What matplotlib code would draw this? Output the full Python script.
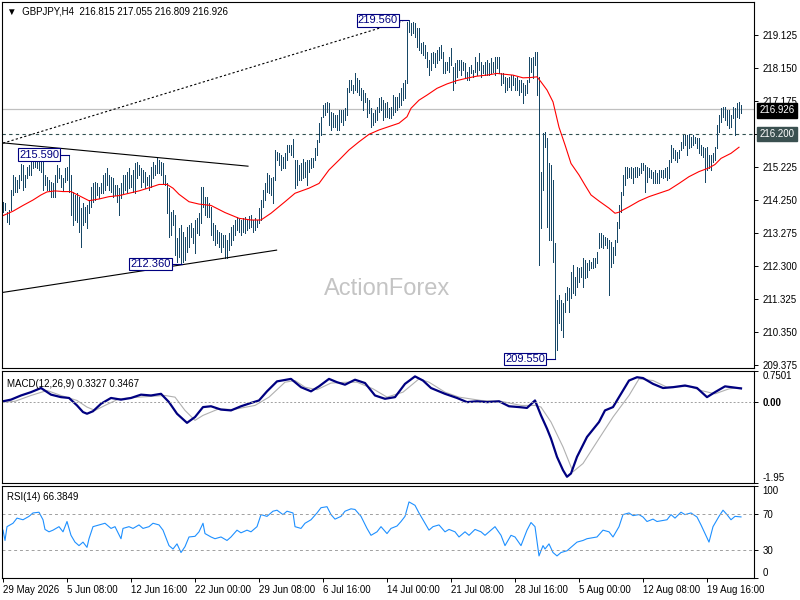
import numpy as np
import matplotlib
matplotlib.use("Agg")
import matplotlib.pyplot as plt

plt.rcParams['font.family'] = ['Liberation Sans', 'DejaVu Sans']

# H4 bars, high / low per bar
highs = [
    214.19, 214.16, 213.90, 213.96, 214.55, 214.99, 214.93, 214.84, 214.99, 215.31,
    215.28, 214.99, 215.23, 215.28, 215.49, 215.52, 215.52, 215.43, 215.37, 215.37,
    215.37, 214.99, 214.93, 214.84, 214.78, 214.75, 214.99, 215.28, 215.20, 214.99,
    214.90, 215.20, 215.23, 215.59, 214.99, 214.49, 214.40, 214.46, 214.34, 214.01,
    214.16, 214.04, 214.10, 214.25, 214.63, 214.75, 214.78, 214.75, 214.63, 214.75,
    214.99, 215.05, 215.20, 214.99, 214.93, 214.90, 214.69, 214.69, 214.61, 214.75,
    214.99, 214.99, 215.08, 215.20, 214.99, 215.14, 215.34, 215.37, 215.28, 215.20,
    215.14, 215.08, 214.93, 214.99, 215.23, 215.37, 215.28, 215.52, 215.43, 215.37,
    215.34, 214.99, 214.75, 214.61, 213.90, 213.96, 213.81, 213.13, 213.42, 213.51,
    213.31, 213.16, 213.45, 213.51, 213.57, 213.42, 213.66, 213.72, 213.87, 214.63,
    214.63, 214.34, 214.34, 214.16, 214.04, 213.57, 213.51, 213.36, 213.31, 213.28,
    213.22, 213.22, 213.07, 213.28, 213.45, 213.51, 213.66, 213.75, 213.69, 213.66,
    213.72, 213.75, 213.66, 213.78, 213.81, 213.66, 213.72, 213.66, 214.01, 214.25,
    214.55, 214.75, 215.05, 214.99, 214.90, 214.93, 215.73, 215.67, 215.64, 215.58,
    215.52, 215.64, 215.88, 215.88, 215.88, 216.05, 215.43, 215.43, 215.28, 215.34,
    215.46, 215.37, 215.43, 215.43, 215.49, 215.49, 215.79, 216.02, 216.53, 216.70,
    217.06, 217.12, 217.15, 217.12, 216.85, 216.82, 216.76, 216.76, 216.91, 216.91,
    216.91, 216.97, 217.56, 217.80, 217.80, 217.65, 218.00, 217.86, 217.80, 217.56,
    217.50, 217.41, 217.26, 217.21, 216.97, 216.82, 216.91, 217.00, 217.26, 217.29,
    217.21, 217.12, 217.15, 216.97, 217.00, 217.35, 217.29, 217.29, 217.41, 217.56,
    217.71, 217.80, 219.51, 219.56, 219.48, 219.51, 219.48, 219.33, 219.33, 218.89,
    218.92, 218.83, 218.62, 218.39, 218.59, 218.62, 218.59, 218.68, 218.77, 218.83,
    218.62, 218.33, 218.33, 218.48, 218.74, 218.18, 218.30, 218.39, 218.39, 218.39,
    218.33, 218.30, 218.03, 218.18, 218.24, 218.09, 218.48, 218.33, 218.59, 218.33,
    218.24, 218.33, 218.39, 218.30, 218.45, 218.33, 218.48, 218.48, 218.48, 218.00,
    218.00, 217.88, 217.86, 217.88, 217.94, 217.94, 217.86, 217.88, 217.80, 217.80,
    217.71, 217.65, 217.80, 218.48, 218.45, 218.48, 218.62, 218.62, 217.88, 215.08,
    216.23, 216.26, 216.08, 215.34, 215.28, 214.84, 212.98, 211.30, 211.44, 211.30,
    211.21, 211.50, 211.68, 211.65, 212.12, 212.33, 211.98, 212.27, 212.24, 212.27,
    212.54, 212.48, 212.39, 212.48, 212.42, 212.54, 212.54, 212.71, 213.28, 213.28,
    213.22, 213.16, 213.13, 213.07, 213.01, 212.86, 213.07, 213.60, 214.10, 214.49,
    214.99, 215.23, 215.23, 215.20, 215.23, 215.20, 215.23, 215.23, 215.20, 215.34,
    215.34, 215.28, 215.23, 215.20, 215.14, 215.08, 215.14, 215.05, 215.14, 215.14,
    215.14, 215.20, 215.23, 215.43, 215.88, 215.79, 215.73, 215.67, 215.73, 215.96,
    216.17, 216.17, 216.17, 216.20, 216.11, 216.17, 216.11, 216.08, 216.08, 215.88,
    215.82, 215.79, 215.82, 215.58, 215.58, 215.64, 215.82, 216.47, 216.76, 216.97,
    217.00, 217.00, 216.91, 216.91, 216.76, 217.00, 216.97, 217.12, 217.15, 217.06,
]
lows = [
    213.90, 213.96, 213.60, 213.54, 213.96, 214.40, 214.49, 214.49, 214.61, 214.84,
    214.55, 214.63, 214.90, 214.99, 214.99, 215.20, 215.23, 215.20, 215.14, 215.08,
    214.55, 214.69, 214.55, 214.55, 214.34, 214.34, 214.34, 214.78, 214.90, 214.63,
    214.55, 214.78, 214.84, 214.49, 213.81, 213.51, 213.66, 213.60, 213.31, 212.86,
    213.51, 213.60, 213.42, 213.87, 214.04, 214.19, 214.25, 214.40, 214.31, 214.46,
    214.46, 214.55, 214.69, 214.55, 214.49, 214.34, 214.40, 214.19, 213.81, 214.31,
    214.46, 214.55, 214.49, 214.61, 214.63, 214.49, 214.46, 214.90, 214.99, 214.63,
    214.78, 214.61, 214.69, 214.55, 214.63, 214.90, 214.99, 215.05, 215.05, 214.99,
    214.75, 214.69, 213.87, 213.16, 213.22, 213.51, 212.63, 212.42, 212.57, 212.36,
    212.42, 212.48, 212.71, 212.86, 213.16, 212.98, 212.68, 213.28, 213.22, 213.57,
    214.04, 213.81, 213.75, 213.75, 213.22, 213.07, 212.92, 212.98, 212.86, 212.71,
    212.86, 212.54, 212.54, 212.77, 212.92, 213.07, 213.22, 213.36, 213.31, 213.22,
    213.31, 213.28, 213.36, 213.42, 213.45, 213.31, 213.36, 213.45, 213.57, 213.66,
    214.04, 214.25, 214.49, 214.46, 214.40, 214.16, 214.84, 215.43, 215.28, 215.14,
    215.20, 215.20, 215.43, 215.67, 215.58, 215.52, 214.61, 214.69, 214.84, 214.84,
    214.90, 214.93, 214.69, 215.08, 215.20, 215.23, 215.43, 215.58, 215.96, 216.17,
    216.70, 216.76, 216.85, 216.47, 216.32, 216.41, 216.41, 216.32, 216.32, 216.55,
    216.47, 216.61, 216.76, 217.44, 217.50, 217.41, 217.50, 217.44, 217.35, 217.21,
    216.91, 217.15, 216.70, 216.82, 216.41, 216.47, 216.55, 216.61, 216.85, 216.91,
    216.61, 216.70, 216.70, 216.67, 216.67, 216.76, 216.85, 216.91, 217.00, 217.06,
    217.21, 217.26, 217.71, 219.21, 219.13, 219.18, 219.07, 218.77, 218.68, 218.59,
    218.53, 218.45, 218.18, 217.94, 218.09, 218.30, 218.18, 218.30, 218.39, 218.45,
    218.00, 218.00, 218.09, 218.03, 218.24, 217.50, 217.71, 217.88, 218.09, 217.94,
    218.09, 217.86, 217.80, 217.80, 218.00, 217.88, 218.03, 217.94, 218.09, 217.88,
    218.00, 217.94, 217.94, 217.94, 218.00, 218.03, 217.94, 218.15, 218.00, 217.65,
    217.71, 217.44, 217.50, 217.59, 217.50, 217.65, 217.50, 217.50, 217.35, 217.44,
    217.12, 217.35, 217.41, 217.74, 218.03, 217.86, 218.24, 217.35, 212.33, 213.42,
    214.55, 215.82, 213.45, 213.07, 213.07, 212.42, 209.55, 209.82, 210.62, 210.41,
    210.20, 210.94, 211.30, 210.94, 211.36, 211.50, 211.44, 211.68, 211.83, 211.98,
    211.68, 211.95, 211.98, 212.18, 212.24, 212.24, 212.27, 212.39, 212.83, 212.86,
    212.83, 212.92, 212.83, 211.44, 212.27, 212.39, 212.63, 213.01, 213.42, 213.90,
    214.40, 214.69, 214.90, 214.93, 214.90, 214.75, 214.93, 214.93, 214.99, 215.05,
    215.14, 214.49, 214.78, 214.93, 214.90, 214.75, 214.75, 214.75, 214.75, 214.93,
    214.90, 214.93, 214.84, 214.90, 215.37, 215.49, 215.43, 215.37, 215.49, 215.73,
    215.79, 215.88, 215.58, 215.79, 215.82, 215.88, 215.93, 215.79, 215.64, 215.58,
    215.52, 214.78, 215.14, 215.20, 215.14, 215.37, 215.43, 215.79, 216.26, 216.55,
    216.70, 216.61, 216.47, 216.38, 216.41, 216.67, 216.17, 216.70, 216.67, 216.81,
]

# red moving average, sampled
ma_idx = [0, 5, 10, 15, 19, 22, 26, 30, 34, 38, 43, 48, 53, 58, 63, 68, 73, 78, 82, 85,
          88, 93, 98, 104, 111, 118, 124, 129, 134, 141, 146, 153, 158, 163, 168, 173, 178, 183, 188, 193,
          198, 202, 204, 208, 212, 217, 222, 227, 232, 237, 242, 247, 250, 255, 260, 264, 267, 269, 272, 275,
          278, 281, 284, 288, 291, 294, 298, 303, 306, 308, 313, 318, 323, 328, 333, 338, 343, 348, 353, 356,
          359, 364, 368]
ma_val = [213.79, 213.92, 214.09, 214.25, 214.40, 214.49, 214.52, 214.50, 214.50, 214.38,
          214.23, 214.28, 214.35, 214.38, 214.45, 214.52, 214.61, 214.71, 214.71, 214.60,
          214.42, 214.20, 214.13, 214.09, 213.88, 213.71, 213.66, 213.66, 213.86, 214.20,
          214.45, 214.60, 214.74, 215.14, 215.43, 215.73, 215.97, 216.19, 216.32, 216.42,
          216.52, 216.71, 216.96, 217.20, 217.35, 217.55, 217.68, 217.78, 217.85, 217.91,
          217.94, 217.99, 217.97, 217.94, 217.86, 217.87, 217.89, 217.74, 217.50, 217.15,
          216.40, 215.88, 215.33, 214.99, 214.69, 214.40, 214.22, 214.01, 213.86, 213.89,
          214.05, 214.22, 214.35, 214.45, 214.55, 214.74, 214.94, 215.09, 215.20, 215.30,
          215.48, 215.63, 215.81]

# MACD(12,26,9)
macd_idx = [0, 4, 9, 14, 19, 24, 29, 33, 37, 40, 42, 45, 49, 54, 59, 64, 69, 74, 79, 83,
            87, 92, 96, 100, 104, 109, 114, 119, 124, 128, 132, 137, 144, 149, 154, 158, 163, 167, 171, 176,
            181, 186, 191, 196, 201, 206, 210, 214, 221, 227, 232, 237, 242, 248, 253, 258, 262, 266, 269, 272,
            274, 277, 280, 282, 284, 287, 292, 298, 301, 305, 309, 313, 317, 320, 325, 330, 335, 341, 347, 352,
            356, 361, 369]
macd_val = [0.02, 0.06, 0.16, 0.24, 0.34, 0.18, 0.12, 0.10, -0.08, -0.24,
            -0.28, -0.22, -0.04, 0.10, 0.06, 0.10, 0.18, 0.16, 0.20, 0.0,
            -0.28, -0.50, -0.36, -0.12, -0.10, -0.18, -0.20, -0.10, -0.02, 0.04,
            0.26, 0.50, 0.56, 0.36, 0.26, 0.38, 0.56, 0.48, 0.42, 0.54,
            0.46, 0.16, 0.08, 0.12, 0.44, 0.62, 0.52, 0.34, 0.20, 0.10,
            0.0, 0.02, 0.0, 0.02, -0.10, -0.12, -0.14, 0.04, -0.32, -0.64,
            -0.88, -1.32, -1.64, -1.80, -1.72, -1.32, -0.84, -0.48, -0.20, -0.12,
            0.20, 0.52, 0.60, 0.58, 0.44, 0.34, 0.36, 0.40, 0.34, 0.12,
            0.24, 0.38, 0.33]
sig_idx = [0, 6, 14, 22, 29, 37, 42, 46, 51, 58, 68, 81, 86, 91, 96, 100, 108, 115, 126, 133,
           141, 146, 151, 157, 164, 172, 177, 185, 192, 200, 208, 213, 221, 228, 239, 249, 259, 266, 269, 274,
           280, 285, 290, 298, 305, 313, 318, 325, 332, 343, 349, 356, 363, 369]
sig_val = [0.0, 0.02, 0.16, 0.28, 0.16, 0.04, -0.12, -0.20, -0.08, 0.08,
           0.12, 0.16, 0.12, -0.20, -0.44, -0.32, -0.16, -0.18, -0.08, 0.12,
           0.48, 0.52, 0.36, 0.30, 0.46, 0.48, 0.48, 0.32, 0.12, 0.24,
           0.56, 0.48, 0.24, 0.12, 0.04, 0.02, -0.08, -0.08, -0.12, -0.48,
           -1.08, -1.68, -1.48, -0.88, -0.36, 0.16, 0.56, 0.52, 0.36, 0.38,
           0.28, 0.20, 0.32, 0.35]

# RSI(14)
rsi_idx = [0, 1, 2, 5, 7, 10, 13, 15, 18, 20, 21, 23, 25, 28, 30, 32, 34, 36, 38, 40,
           42, 43, 45, 48, 51, 54, 56, 59, 60, 63, 65, 68, 70, 73, 75, 78, 80, 83, 85, 87,
           89, 91, 93, 96, 98, 100, 101, 104, 106, 109, 112, 114, 117, 119, 122, 124, 127, 129, 132, 135,
           137, 140, 142, 145, 146, 149, 151, 154, 157, 159, 162, 164, 166, 169, 171, 174, 176, 179, 182, 184,
           187, 189, 192, 194, 197, 199, 201, 203, 206, 208, 210, 213, 215, 218, 221, 223, 226, 228, 231, 233,
           236, 239, 241, 244, 246, 249, 251, 254, 256, 259, 262, 264, 266, 268, 270, 271, 273, 275, 277, 279,
           282, 285, 287, 290, 292, 295, 297, 300, 303, 305, 308, 310, 313, 315, 318, 320, 322, 325, 327, 330,
           332, 334, 336, 339, 341, 344, 347, 349, 351, 353, 355, 358, 360, 362, 364, 366, 369]
rsi_val = [52.0, 40.8, 55.8, 59.5, 65.1, 63.3, 67.0, 70.7, 71.5, 63.3,
           52.8, 50.2, 52.0, 55.8, 50.2, 61.4, 46.4, 39.0, 35.2, 39.0,
           33.3, 42.7, 55.8, 57.7, 59.5, 53.9, 55.8, 42.7, 53.9, 55.8,
           53.9, 57.7, 53.9, 55.8, 59.5, 57.7, 52.0, 35.2, 31.5, 37.1,
           27.7, 34.1, 44.6, 45.3, 50.2, 59.5, 48.3, 44.6, 42.7, 44.6,
           40.8, 44.6, 52.0, 49.1, 52.0, 50.2, 55.8, 68.9, 67.0, 72.6,
           73.7, 68.9, 72.6, 70.7, 55.8, 53.9, 59.5, 63.3, 70.7, 76.4,
           77.5, 68.9, 64.0, 67.0, 72.6, 75.2, 74.5, 67.0, 53.9, 46.4,
           50.2, 55.8, 48.3, 53.9, 56.5, 61.4, 67.0, 82.7, 79.0, 70.7,
           63.3, 52.0, 55.8, 57.7, 50.2, 52.8, 50.2, 44.6, 50.2, 46.4,
           52.8, 50.2, 46.4, 52.0, 55.8, 46.4, 35.2, 46.4, 44.6, 35.2,
           52.0, 60.3, 55.8, 24.0, 35.2, 31.5, 37.1, 27.7, 24.0, 27.7,
           29.6, 35.2, 39.0, 40.8, 42.7, 43.8, 44.6, 52.0, 50.2, 44.6,
           55.8, 68.9, 70.7, 67.8, 68.9, 66.3, 61.4, 64.0, 61.4, 62.5,
           63.3, 68.9, 65.1, 71.5, 68.9, 70.7, 66.3, 57.7, 48.3, 39.0,
           55.8, 67.0, 73.7, 68.9, 63.3, 67.0, 66.4]

price_ticks = [219.125, 218.150, 217.175, 216.200, 215.225, 214.250,
               213.275, 212.300, 211.325, 210.350, 209.375]
date_idx = [0, 32, 64, 96, 128, 160, 192, 224, 256, 288, 320, 352]
date_labels = ["29 May 2026", "5 Jun 08:00", "12 Jun 16:00", "22 Jun 00:00",
               "29 Jun 08:00", "6 Jul 16:00", "14 Jul 00:00", "21 Jul 08:00",
               "28 Jul 16:00", "5 Aug 00:00", "12 Aug 08:00", "19 Aug 16:00"]

# drawn objects: (bar, price) ends
chan_dotted = ([0, 200], [215.93, 219.54])
chan_upper = ([-0.2, 122.5], [215.94, 215.25])
chan_lower = ([-0.2, 136.8], [211.52, 212.77])
level = 216.200
last_price = 216.926

bar_col = '#174766'
navy = '#000080'
fs = 7

fig = plt.figure(figsize=(8, 6), dpi=100)
ax1 = fig.add_axes([2/800, 1-368/600, 752/800, 366/600])
ax2 = fig.add_axes([2/800, 1-483/600, 752/800, 112/600])
ax3 = fig.add_axes([2/800, 1-578/600, 752/800, 92/600])

for ax in (ax1, ax2, ax3):
    ax.set_xlim(-0.5, 375.5)
    for s in ax.spines.values():
        s.set_linewidth(0.8)
    ax.yaxis.tick_right()
    ax.tick_params(axis='y', left=False, right=True, labelleft=False, labelright=True,
                   length=3, width=0.7, pad=3, labelsize=fs)
    ax.tick_params(axis='x', bottom=False, labelbottom=False)

# main price panel
idx = np.arange(len(highs))
ax1.vlines(idx, lows, highs, colors=bar_col, lw=0.5, antialiased=False)
ax1.plot(ma_idx, ma_val, color='#ff0000', lw=0.8)
ax1.axhline(last_price, color='#c0c0c0', lw=0.9, zorder=1)
ax1.axhline(level, color='#2f4f4f', lw=0.8, ls=(0, (3, 3)), zorder=1)
ax1.plot(*chan_dotted, color='black', lw=0.8, ls=(0, (2, 2)))
ax1.plot(*chan_upper, color='black', lw=0.8)
ax1.plot(*chan_lower, color='black', lw=0.8)
ax1.set_ylim(209.288, 220.10)
ax1.set_yticks(price_ticks)
# the 216.200 level carries its own box label
ax1.set_yticklabels(['' if p == level else '%.3f' % p for p in price_ticks])

box = dict(boxstyle='square,pad=0.12', fc='white', ec=navy, lw=0.8)
for xt, xb, p, t in [(28, 33, 215.59, '215.590'), (84, 89.5, 212.36, '212.360'),
                     (197.5, 202.5, 219.56, '219.560'), (271, 276, 209.55, '209.550')]:
    ax1.plot([xt + 0.5, xb], [p, p], color=navy, lw=0.8)
    ax1.text(xt, p, t, ha='right', va='center', color=navy, fontsize=8, bbox=box, zorder=5)

tr = ax1.get_yaxis_transform()
ax1.text(1.007, last_price - 0.03, '216.926', transform=tr, ha='left', va='center', color='white',
         fontsize=fs, clip_on=False, zorder=6,
         bbox=dict(boxstyle='square,pad=0.25', fc='black', ec='black'))
ax1.text(1.007, level, '216.200', transform=tr, ha='left', va='center', color='white',
         fontsize=fs, clip_on=False, zorder=6,
         bbox=dict(boxstyle='square,pad=0.25', fc='#3a5050', ec='#3a5050'))

ax1.text(0.006, 0.988, '\u25bc  GBPJPY,H4  216.815 217.055 216.809 216.926', transform=ax1.transAxes,
         ha='left', va='top', fontsize=fs)
ax1.text(0.512, 0.215, 'ActionForex', transform=ax1.transAxes, ha='center', va='center',
         fontsize=17, color='#c4c4c4', zorder=0)

# MACD panel
ax2.plot(sig_idx, sig_val, color='#b0b0b0', lw=0.8)
ax2.plot(macd_idx, macd_val, color=navy, lw=1.6)
ax2.axhline(0, color='#a0a0a0', lw=0.7, ls=(0, (2, 2)))
ax2.set_ylim(-1.95, 0.7501)
ax2.set_yticks([0.7501, 0.0, -1.95])
ax2.set_yticklabels(['0.7501', '0.00', '-1.95'])
ylab = ax2.get_yticklabels()
ylab[0].set_va('top')
ylab[1].set_fontweight('bold')
ylab[2].set_va('bottom')
ax2.text(0.006, 0.93, 'MACD(12,26,9) 0.3327 0.3467', transform=ax2.transAxes,
         ha='left', va='top', fontsize=fs)

# RSI panel
ax3.plot(rsi_idx, rsi_val, color='#1e90ff', lw=0.8)
ax3.axhline(70, color='#a0a0a0', lw=0.7, ls=(0, (3, 3)))
ax3.axhline(30, color='#a0a0a0', lw=0.7, ls=(0, (3, 3)))
ax3.set_ylim(0, 100)
ax3.set_yticks([100, 70, 30, 0])
ax3.set_yticklabels(['100', '70', '30', '0'])
ylab = ax3.get_yticklabels()
ylab[0].set_va('top')
ylab[3].set_va('bottom')
ax3.text(0.006, 0.93, 'RSI(14) 66.3849', transform=ax3.transAxes,
         ha='left', va='top', fontsize=fs)

ax3.set_xticks(date_idx)
ax3.set_xticklabels(date_labels, ha='left')
ax3.tick_params(axis='x', bottom=True, labelbottom=True, length=3, width=0.7, pad=2, labelsize=fs)

fig.savefig('out.png', dpi=100, facecolor='white')
